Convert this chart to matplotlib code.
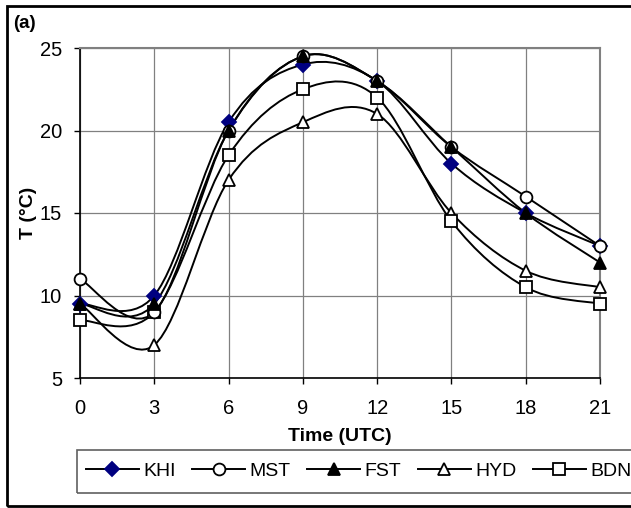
"""Diurnal temperature cycle at five stations, Excel-style smoothed lines."""
import matplotlib
matplotlib.use("Agg")
import matplotlib.pyplot as plt
from matplotlib.path import Path
from matplotlib.patches import PathPatch, Rectangle
from matplotlib.lines import Line2D

plt.rcParams["font.family"] = ["Liberation Sans", "DejaVu Sans"]

hours = [0, 3, 6, 9, 12, 15, 18, 21]
khi = [9.5, 10, 20.5, 24, 23, 18, 15, 13]
mst = [11, 9, 20, 24.5, 23, 19, 16, 13]
fst = [9.5, 9.5, 20, 24.5, 23, 19, 15, 12]
hyd = [9.5, 7, 17, 20.5, 21, 15, 11.5, 10.5]
bdn = [8.5, 9, 18.5, 22.5, 22, 14.5, 10.5, 9.5]
stations = ["KHI", "MST", "FST", "HYD", "BDN"]
series = [khi, mst, fst, hyd, bdn]

# marker styles per station: (marker, face, edge, zorder of markers)
styles = {
    "KHI": ("D", "#000080", "#000080", 6),
    "MST": ("o", "white", "black", 7),
    "FST": ("^", "black", "black", 8),
    "HYD": ("^", "white", "black", 4),
    "BDN": ("s", "white", "black", 5),
}


def smooth_path(xs, ys):
    # Excel-like smoothing: cubic Bezier, control points from neighbours
    n = len(xs)
    verts = [(xs[0], ys[0])]
    codes = [Path.MOVETO]
    for i in range(n - 1):
        i0 = max(i - 1, 0)
        i3 = min(i + 2, n - 1)
        c1 = (xs[i] + (xs[i + 1] - xs[i0]) / 6, ys[i] + (ys[i + 1] - ys[i0]) / 6)
        c2 = (xs[i + 1] - (xs[i3] - xs[i]) / 6, ys[i + 1] - (ys[i3] - ys[i]) / 6)
        verts += [c1, c2, (xs[i + 1], ys[i + 1])]
        codes += [Path.CURVE4] * 3
    return Path(verts, codes)


W, H = 631, 508
fig = plt.figure(figsize=(W / 100, H / 100), dpi=100)
ax = fig.add_axes([80 / W, 1 - 378 / H, 520 / W, 330 / H])

handles = []
for name, ys in zip(stations, series):
    ax.add_patch(PathPatch(smooth_path(hours, ys), fill=False, edgecolor="black",
                           linewidth=1.4, zorder=3, clip_on=False))
    m, fc, ec, z = styles[name]
    ms = 7.5 if m == "D" else 8.5
    ax.plot(hours, ys, linestyle="none", marker=m, markersize=ms,
            markerfacecolor=fc, markeredgecolor=ec, markeredgewidth=1.3,
            zorder=z, clip_on=False)
    handles.append(Line2D([], [], color="black", linewidth=1.4, marker=m,
                          markersize=ms, markerfacecolor=fc, markeredgecolor=ec,
                          markeredgewidth=1.3, label=name))

ax.set_xlim(0, 21)
ax.set_ylim(5, 25)
ax.set_xticks(hours)
ax.set_yticks([5, 10, 15, 20, 25])
ax.grid(True, color="#808080", linewidth=0.9)
ax.set_axisbelow(True)
ax.tick_params(direction="out", length=4, width=1, labelsize=14.5)
ax.tick_params(axis="x", pad=11)
ax.tick_params(axis="y", pad=9)
for s in ("left", "bottom"):
    ax.spines[s].set_color("black")
    ax.spines[s].set_linewidth(1.2)
for s in ("right", "top"):
    ax.spines[s].set_color("#808080")
    ax.spines[s].set_linewidth(1.5)

ax.set_xlabel("Time (UTC)", fontsize=14, fontweight="bold", labelpad=7)
ax.set_ylabel("T (°C)", fontsize=14, fontweight="bold", labelpad=2)
fig.text(13 / W, 1 - 28 / H, "(a)", fontsize=13.5, fontweight="bold")

# outer border (cut at right edge) and legend box
fig.patches.append(Rectangle((7 / W, 2 / H), 1.05, 1 - 8 / H, transform=fig.transFigure,
                             fill=False, edgecolor="black", linewidth=2))
fig.patches.append(Rectangle((77 / W, 1 - 493 / H), 1.0, 43 / H, transform=fig.transFigure,
                             fill=False, edgecolor="#606060", linewidth=1.2))
fig.legend(handles=handles, loc="center left", bbox_to_anchor=(86 / W, 1 - 471 / H),
           ncol=5, frameon=False, fontsize=14, handlelength=2.7, handletextpad=0.25,
           columnspacing=0.85, borderpad=0, borderaxespad=0)

fig.savefig("out.png", dpi=100)
